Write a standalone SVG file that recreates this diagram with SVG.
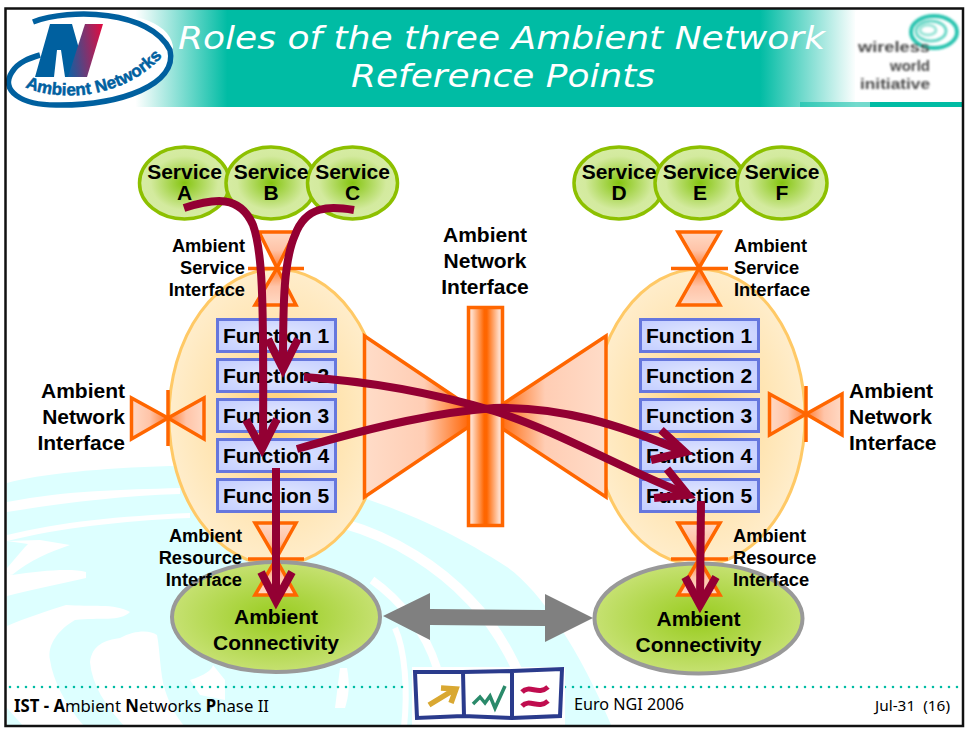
<svg xmlns="http://www.w3.org/2000/svg" width="968" height="731" viewBox="0 0 968 731">
<style>
text{font-family:"Liberation Sans",Arial,sans-serif;fill:#000}
.s21{font-size:21px;font-weight:bold}
.s18{font-size:18.3px;font-weight:bold}
.m{text-anchor:middle}
.e{text-anchor:end}
.svc{fill:url(#gSvc);stroke:#8DC000;stroke-width:3.5}
.fn{fill:url(#gFn);stroke:#6677DD;stroke-width:3}
.big{fill:url(#gBig);stroke:#FFC966;stroke-width:3}
.or{stroke:#FF6600;stroke-width:3.5}
.cn{fill:url(#gCn);stroke:#999;stroke-width:4}
.arr{fill:none;stroke:#930033;stroke-width:8;stroke-linejoin:miter}
.wm{fill:none;stroke:#fff}
.title{font-family:"DejaVu Sans",Verdana,sans-serif;font-style:italic;font-size:32px;fill:#fff}
.foot{font-family:"Noto Sans",Tahoma,sans-serif}
.wwt{font-size:15px;font-weight:bold;fill:#4a4a4a}
</style>
<defs>
<radialGradient id="gSvc"><stop offset="0" stop-color="#85C510"/><stop offset="0.75" stop-color="#D3EA9E"/><stop offset="1" stop-color="#D6ECA4"/></radialGradient>
<radialGradient id="gFn" r="0.75"><stop offset="0" stop-color="#E4E9FF"/><stop offset="1" stop-color="#BFCAFF"/></radialGradient>
<radialGradient id="gBig"><stop offset="0" stop-color="#FFCF70"/><stop offset="0.55" stop-color="#FFE3AE"/><stop offset="1" stop-color="#FFEDCB"/></radialGradient>
<radialGradient id="gCn"><stop offset="0" stop-color="#98CC1E"/><stop offset="1" stop-color="#C6E172"/></radialGradient>
<linearGradient id="gBar"><stop offset="0.1" stop-color="#FFDCC8"/><stop offset="0.46" stop-color="#FF6600"/><stop offset="0.54" stop-color="#FF6600"/><stop offset="0.9" stop-color="#FFDCC8"/></linearGradient>
<linearGradient id="gTL"><stop offset="0" stop-color="#FFDCC8"/><stop offset="0.5" stop-color="#FFCDB4"/><stop offset="0.85" stop-color="#FF6E14"/><stop offset="1" stop-color="#FF6600"/></linearGradient>
<linearGradient id="gTR" x1="1" x2="0"><stop offset="0" stop-color="#FFDCC8"/><stop offset="0.5" stop-color="#FFCDB4"/><stop offset="0.85" stop-color="#FF6E14"/><stop offset="1" stop-color="#FF6600"/></linearGradient>
<linearGradient id="gV" x1="0" x2="0" y1="0" y2="1"><stop offset="0" stop-color="#FFD9C4"/><stop offset="0.5" stop-color="#FFC4A8"/><stop offset="1" stop-color="#FF7B30"/></linearGradient>
<linearGradient id="gVu" x1="0" x2="0" y1="1" y2="0"><stop offset="0" stop-color="#FFD9C4"/><stop offset="0.5" stop-color="#FFC4A8"/><stop offset="1" stop-color="#FF7B30"/></linearGradient>
<linearGradient id="gHL"><stop offset="0" stop-color="#FFD9C4"/><stop offset="0.5" stop-color="#FFC4A8"/><stop offset="1" stop-color="#FF7B30"/></linearGradient>
<linearGradient id="gHR" x1="1" x2="0"><stop offset="0" stop-color="#FFD9C4"/><stop offset="0.5" stop-color="#FFC4A8"/><stop offset="1" stop-color="#FF7B30"/></linearGradient>
<linearGradient id="gHead" gradientUnits="userSpaceOnUse" x1="0" x2="968" y1="0" y2="0">
<stop offset="0.14" stop-color="#fff"/><stop offset="0.235" stop-color="#00BCA4"/><stop offset="0.785" stop-color="#00BCA4"/><stop offset="0.885" stop-color="#fff"/></linearGradient>
<linearGradient id="gN" x1="0" x2="1" y1="0.6" y2="0.4"><stop offset="0" stop-color="#1A5C9E"/><stop offset="1" stop-color="#D80F45"/></linearGradient>
<filter id="bl" x="-10%" y="-10%" width="120%" height="120%"><feGaussianBlur stdDeviation="0.8"/></filter>
<filter id="bl2" x="-10%" y="-10%" width="120%" height="120%"><feGaussianBlur stdDeviation="0.7"/></filter>
</defs>

<rect width="968" height="731" fill="#fff"/>

<g id="watermark">
<path d="M7,483 C40,474 100,468 170,466 C240,470 310,480 363,498 C400,510 450,530 507,567 C540,590 580,650 612,727 L7,727 Z" fill="#DDFFFF"/>
<path fill="#fff" d="M7,502 C70,490 120,490 180,488 L180,494 C120,496 70,502 7,512 Z"/>
<path fill="#fff" d="M7,535 C60,522 120,516 190,513 L190,518 C120,521 60,528 7,541 Z"/>
<path fill="#fff" d="M7,541 L28,544 L25,547 L7,568 L7,572 L12,575 C30,560 50,552 70,545 L40,540 Z"/>
<path fill="#fff" d="M7,572 L12,575 C40,571 70,568 86,572 L86,578 C60,584 30,590 7,596 Z"/>
<path fill="#fff" d="M7,626 C25,618 50,610 66,605 C90,607 115,603 130,612 C120,622 100,617 75,620 C58,630 47,645 50,660 C53,680 65,705 85,727 L24,727 L7,708 Z"/>
<path fill="#fff" d="M90,662 C92,645 105,640 120,638 C135,630 150,630 157,635 C160,650 160,675 165,690 C170,705 175,715 185,727 L125,727 C105,705 92,685 90,662 Z"/>
<path fill="#fff" d="M190,680 C205,675 212,670 213,665 L225,680 L225,700 L200,695 Z"/>
<path class="wm" stroke-width="10" d="M345,524 C395,538 440,568 470,600 C500,630 520,670 540,727"/>
<path class="wm" stroke-width="8" d="M372,580 C400,600 425,630 437,668"/>
<path fill="#fff" d="M340,668 L347,668 C350,685 349,695 345,708 L335,708 Z"/>
<path class="wm" stroke-width="6" d="M395,628 C405,650 408,690 404,727"/>
</g>

<g id="header">
<rect x="115" y="9" width="757" height="98" fill="url(#gHead)"/>
<rect x="800" y="102" width="70" height="5" fill="#00BCA4" opacity=".55"/>
<rect x="870" y="102" width="92" height="5" fill="#00BCA4"/>
<text class="title m" x="501.5" y="49" textLength="647" lengthAdjust="spacingAndGlyphs">Roles of the three Ambient Network</text>
<text class="title m" x="503" y="87" textLength="304" lengthAdjust="spacingAndGlyphs">Reference Points</text>
</g>

<g id="logo-ambient-networks">
<ellipse cx="88" cy="60" rx="86" ry="44" transform="rotate(-10 88 60)" fill="#fff"/>
<path d="M33,22 C70,8 150,10 170,50 C178,85 120,105 60,105 C20,106 0,90 12,72 C18,62 30,58 40,55" fill="none" stroke="#00609F" stroke-width="5.500"/>
<path d="M35,77 L50,24 L72,24 L87,77 L65,77 L61,50 L57,50 L54,77 Z" fill="#00609F"/>
<path d="M85,24 L103,24 L87,77 L68,77 Z" fill="url(#gN)"/>
<path id="lp" d="M25,87 C55,101 125,103 168,50" fill="none"/>
<text font-size="17" font-weight="bold" style="fill:#00609F;stroke:#00609F;stroke-width:.5"><textPath href="#lp">Ambient Networks</textPath></text>
</g>

<g id="logo-wireless-world" >
<rect x="855" y="12" width="107" height="90" fill="#fff"/>
<g filter="url(#bl)">
<ellipse cx="934" cy="32" rx="23" ry="16" fill="none" stroke="#2CC4B0" stroke-width="4"/>
<ellipse cx="931" cy="31" rx="15" ry="10" fill="none" stroke="#6DD8C8" stroke-width="3"/>
<ellipse cx="928" cy="30" rx="8" ry="5" fill="none" stroke="#9CE5D8" stroke-width="3"/>
<text class="wwt" x="858" y="52" textLength="72" lengthAdjust="spacingAndGlyphs">wireless</text>
<text class="wwt e" x="930" y="70.500">world</text>
<text class="wwt" x="860" y="89" textLength="70" lengthAdjust="spacingAndGlyphs">initiative</text>
</g>
</g>

<g id="service-a"><ellipse class="svc" cx="184.500" cy="183" rx="45" ry="36"/></g>
<g id="service-b"><ellipse class="svc" cx="271" cy="183" rx="45" ry="36"/></g>
<g id="service-c"><ellipse class="svc" cx="352.500" cy="183" rx="45" ry="36"/></g>
<g id="service-d"><ellipse class="svc" cx="619" cy="183" rx="45" ry="36"/></g>
<g id="service-e"><ellipse class="svc" cx="700" cy="183" rx="45" ry="36"/></g>
<g id="service-f"><ellipse class="svc" cx="782" cy="183" rx="45" ry="36"/></g>
<g id="service-labels">
<text class="s21 m" x="184.500" y="179">Service</text><text class="s21 m" x="184.500" y="200">A</text>
<text class="s21 m" x="271" y="179">Service</text><text class="s21 m" x="271" y="200">B</text>
<text class="s21 m" x="352.500" y="179">Service</text><text class="s21 m" x="352.500" y="200">C</text>
<text class="s21 m" x="619" y="179">Service</text><text class="s21 m" x="619" y="200">D</text>
<text class="s21 m" x="700" y="179">Service</text><text class="s21 m" x="700" y="200">E</text>
<text class="s21 m" x="782" y="179">Service</text><text class="s21 m" x="782" y="200">F</text>
</g>

<g id="node-left"><ellipse class="big" cx="276" cy="417" rx="107" ry="148"/></g>
<g id="node-right"><ellipse class="big" cx="699" cy="417" rx="106" ry="148"/></g>

<g id="ani-center">
<path class="or" fill="url(#gTL)" d="M364.500,336 L484,416.500 L364.500,497 Z"/>
<path class="or" fill="url(#gTR)" d="M606,336 L484,416.500 L606,497 Z"/>
<rect class="or" x="468.500" y="307.500" width="34" height="218" fill="url(#gBar)"/>
<text class="s21 m" x="485" y="242">Ambient</text>
<text class="s21 m" x="485" y="268">Network</text>
<text class="s21 m" x="485" y="294">Interface</text>
</g>

<g id="asi-left">
<path class="or" fill="url(#gV)" d="M259,232 H295 L277,268 Z"/>
<path class="or" fill="url(#gVu)" d="M255,305 H296 L277,268 Z"/>
<path class="or" d="M248,268.500 H304" fill="none"/>
<text class="s18 e" x="245" y="252">Ambient</text>
<text class="s18 e" x="245" y="274">Service</text>
<text class="s18 e" x="245" y="296">Interface</text>
</g>
<g id="asi-right">
<path class="or" fill="url(#gV)" d="M678,232 H720 L699,268 Z"/>
<path class="or" fill="url(#gVu)" d="M678,305 H720 L699,268 Z"/>
<path class="or" d="M671,268.500 H728" fill="none"/>
<text class="s18" x="734" y="252">Ambient</text>
<text class="s18" x="734" y="274">Service</text>
<text class="s18" x="734" y="296">Interface</text>
</g>

<g id="ani-left">
<path class="or" fill="url(#gHL)" d="M131.500,398 V439 L168,418 Z"/>
<path class="or" fill="url(#gHR)" d="M204,398 V439 L168,418 Z"/>
<path class="or" d="M168,390 V446" fill="none"/>
<text class="s21 e" x="125" y="398">Ambient</text>
<text class="s21 e" x="125" y="424">Network</text>
<text class="s21 e" x="125" y="450">Interface</text>
</g>
<g id="ani-right">
<path class="or" fill="url(#gHL)" d="M769.500,394 V435 L806,414 Z"/>
<path class="or" fill="url(#gHR)" d="M842,394 V435 L806,414 Z"/>
<path class="or" d="M806,386 V442" fill="none"/>
<text class="s21" x="849" y="398">Ambient</text>
<text class="s21" x="849" y="424">Network</text>
<text class="s21" x="849" y="450">Interface</text>
</g>

<g id="left-functions">
<rect class="fn" x="217.500" y="319.500" width="118" height="32"/><text class="s21" x="223" y="343">Function 1</text>
<rect class="fn" x="217.500" y="359.500" width="118" height="32"/><text class="s21" x="223" y="383">Function 2</text>
<rect class="fn" x="217.500" y="399.500" width="118" height="32"/><text class="s21" x="223" y="423">Function 3</text>
<rect class="fn" x="217.500" y="439.500" width="118" height="32"/><text class="s21" x="223" y="463">Function 4</text>
<rect class="fn" x="217.500" y="479.500" width="118" height="32"/><text class="s21" x="223" y="503">Function 5</text>
</g>
<g id="right-functions">
<rect class="fn" x="640.500" y="319.500" width="118" height="32"/><text class="s21" x="646" y="343">Function 1</text>
<rect class="fn" x="640.500" y="359.500" width="118" height="32"/><text class="s21" x="646" y="383">Function 2</text>
<rect class="fn" x="640.500" y="399.500" width="118" height="32"/><text class="s21" x="646" y="423">Function 3</text>
<rect class="fn" x="640.500" y="439.500" width="118" height="32"/><text class="s21" x="646" y="463">Function 4</text>
<rect class="fn" x="640.500" y="479.500" width="118" height="32"/><text class="s21" x="646" y="503">Function 5</text>
</g>

<g id="ari-left-shapes">
<path class="or" fill="url(#gV)" d="M255,523 H296 L276,559 Z"/>
<path class="or" d="M248,559 H304" fill="none"/>
</g>
<g id="ari-right-shapes">
<path class="or" fill="url(#gV)" d="M678,523 H720 L699,559 Z"/>
<path class="or" d="M671,559 H728" fill="none"/>
</g>

<g id="connectivity-left"><ellipse class="cn" cx="276" cy="617" rx="104" ry="55"/>
<path class="or" fill="url(#gVu)" d="M255,595 H296 L276,559 Z"/>
<text class="s18 e" x="242" y="542">Ambient</text>
<text class="s18 e" x="242" y="564">Resource</text>
<text class="s18 e" x="242" y="586">Interface</text>
<text class="s21 m" x="276" y="624">Ambient</text>
<text class="s21 m" x="276" y="650">Connectivity</text>
</g>
<g id="connectivity-right"><ellipse class="cn" cx="698.500" cy="618.500" rx="104" ry="55"/>
<path class="or" fill="url(#gVu)" d="M678,595 H720 L699,559 Z"/>
<text class="s18" x="733" y="542">Ambient</text>
<text class="s18" x="733" y="564">Resource</text>
<text class="s18" x="733" y="586">Interface</text>
<text class="s21 m" x="698.500" y="626">Ambient</text>
<text class="s21 m" x="698.500" y="652">Connectivity</text>
</g>

<g id="connectors">
<path d="M383,616 L430,593 V609 L545,610 V594 L593,618 L545,642 V626 L430,625 V640 Z" fill="#808080"/>
<path class="arr" d="M184,208 C215,198 240,195 253,225 C262,250 264,290 263,445"/>
<path class="arr" d="M246,420 L262,449 L277,419"/>
<path class="arr" d="M354,210 C330,206 306,205 295,235 C284,260 283,300 283,365"/>
<path class="arr" d="M268,339 L283,369 L298,339"/>
<path class="arr" d="M304,377 C380,382 440,395 494,411 C560,432 620,468 686,494"/>
<path class="arr" d="M667,469 L688,495 L654,498"/>
<path class="arr" d="M297,449 C380,425 440,412 494,408 C560,406 620,425 682,451"/>
<path class="arr" d="M661,430 L685,452 L651,460"/>
<path class="arr" d="M276,468 V598"/>
<path class="arr" d="M261,572 L276,601 L292,572"/>
<path class="arr" d="M701,501 L700,602"/>
<path class="arr" d="M685,577 L700,605 L716,577"/>
</g>

<g id="footer">
<path d="M10,687 H405 M565,687 H962" fill="none" stroke="#00BCA4" stroke-width="2.600" stroke-dasharray="0 8" stroke-linecap="round"/>
<text class="foot" x="14" y="712" font-size="17" textLength="255" lengthAdjust="spacingAndGlyphs"><tspan font-weight="bold">IST - A</tspan>mbient <tspan font-weight="bold">N</tspan>etworks <tspan font-weight="bold">P</tspan>hase II</text>
<text class="foot" x="574" y="710" font-size="16" textLength="110" lengthAdjust="spacingAndGlyphs">Euro NGI 2006</text>
<text class="foot" x="875" y="711" font-size="14" textLength="75" lengthAdjust="spacingAndGlyphs" xml:space="preserve">Jul-31  (16)</text>
</g>

<g id="logo-ist">
<rect x="412" y="667" width="153" height="58" fill="#fff"/>
<g filter="url(#bl2)">
<path d="M415,672 L463,672 L512,671 L562,669 L560,716 L512,718 L463,716 L417,718 Z M463,672 L464,716 M512,670 L512,718" fill="none" stroke="#2B3A8C" stroke-width="4"/>
<path d="M429,705 L452,691 M441,688 L456,689 L451,703" fill="none" stroke="#D9A830" stroke-width="5.500"/>
<path d="M473,704 L480,697 L485,703 L490,696 L495,708 L505,686" fill="none" stroke="#2A8A6A" stroke-width="3.500"/>
<path d="M522,692 C530,684 538,696 548,687 M522,706 C530,698 538,710 548,701" fill="none" stroke="#C01050" stroke-width="5"/>
</g>
</g>

<g id="frame"><rect x="5.500" y="8.500" width="957.500" height="717.500" fill="none" stroke="#111" stroke-width="2.500"/></g>
</svg>
